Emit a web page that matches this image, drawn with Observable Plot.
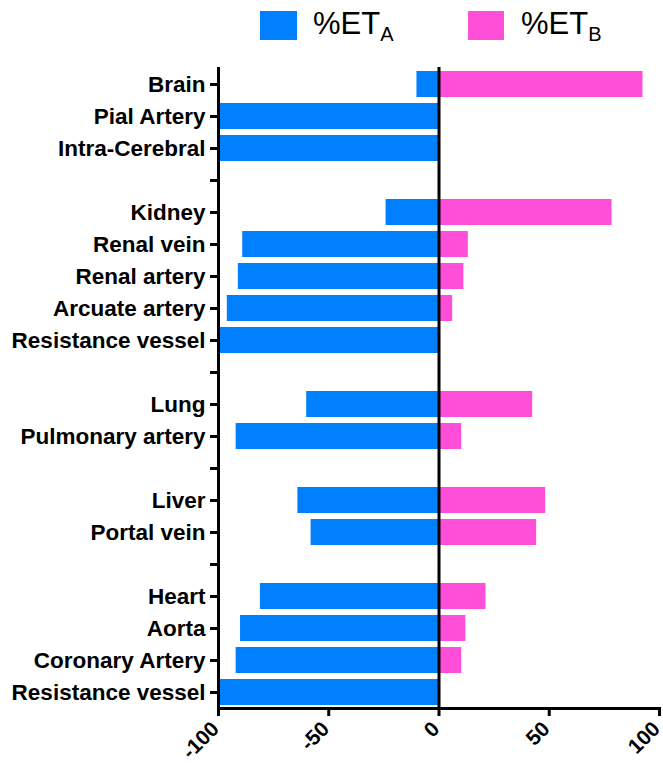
<!DOCTYPE html>
<html>
<head>
<meta charset="utf-8">
<script src="https://cdn.jsdelivr.net/npm/d3@7"></script>
<script src="https://cdn.jsdelivr.net/npm/@observablehq/plot@0.6"></script>
<style>
  html, body { margin: 0; padding: 0; background: white; }
  #legend { display: block; }
</style>
</head>
<body>
<svg id="legend" width="663" height="50" font-family="'Liberation Sans', Arial, sans-serif">
  <rect x="260" y="11" width="37" height="29" fill="#0080FF"></rect>
  <text x="313" y="34" font-size="31" fill="black">%ET<tspan dy="7" font-size="20">A</tspan></text>
  <rect x="468" y="11" width="36" height="29" fill="#FF4FD9"></rect>
  <text x="521" y="34" font-size="31" fill="black">%ET<tspan dy="7" font-size="20">B</tspan></text>
</svg>
<div id="chart"></div>
<script>
// Row ids (unique), displayed labels, and the two series
const rowIds = ["brain","pial","intra","gap1","kidney","renalVein","renalArtery","arcuate","resKidney","gap2","lung","pulmonary","gap3","liver","portal","gap4","heart","aorta","coronary","resHeart"];
const rowLabels = ["Brain","Pial Artery","Intra-Cerebral","","Kidney","Renal vein","Renal artery","Arcuate artery","Resistance vessel","","Lung","Pulmonary artery","","Liver","Portal vein","","Heart","Aorta","Coronary Artery","Resistance vessel"];
const etA = [-10,-100,-100,null,-24,-89,-91,-96,-100,null,-60,-92,null,-64,-58,null,-81,-90,-92,-100];
const etB = [92.5,0,0,null,78.5,13.3,11.3,6.2,0,null,42.5,10.3,null,48.4,44.3,null,21.3,12.2,10.3,0];
const xTicks = [-100,-50,0,50,100];
const seriesNames = ["%ETA","%ETB"];
const seriesColors = ["#0080FF","#FF4FD9"];

const labelOf = new Map(rowIds.map((d, i) => [d, rowLabels[i]]));
const data = [];
rowIds.forEach((id, i) => {
  if (etA[i] != null) data.push({row: id, series: seriesNames[0], value: etA[i]});
  if (etB[i] != null) data.push({row: id, series: seriesNames[1], value: etB[i]});
});

const chart = Plot.plot({
  width: 663,
  height: 715,
  marginTop: 17,
  marginBottom: 57,
  marginLeft: 218,
  marginRight: 4,
  style: {fontFamily: "'Liberation Sans', Arial, sans-serif", fontWeight: "bold", color: "black", background: "white", overflow: "visible"},
  x: {domain: [-100, 100]},
  y: {domain: rowIds, paddingInner: 0.2, paddingOuter: 0.1},
  color: {domain: seriesNames, range: seriesColors},
  marks: [
    Plot.barX(data, {x1: () => 0, x2: "value", y: "row", fill: "series"}),
    Plot.ruleX([0], {stroke: "black", strokeWidth: 3}),
    Plot.ruleX([-100], {stroke: "black", strokeWidth: 3}),
    Plot.frame({anchor: "bottom", stroke: "black", strokeWidth: 3}),
    Plot.axisY({tickSize: 8, tickPadding: 5, fontSize: 22.5, fontWeight: "bold", strokeWidth: 3, tickFormat: d => labelOf.get(d), label: null}),
    Plot.axisX({ticks: xTicks, tickSize: 8, strokeWidth: 3, tickFormat: () => "", label: null}),
    Plot.axisX({ticks: xTicks, tickSize: 0, tickPadding: 17, tickRotate: -45, fontSize: 21, fontWeight: "bold", dx: -3, tickFormat: d => String(d), label: null})
  ]
});
document.getElementById("chart").appendChild(chart);
</script>
</body>
</html>
